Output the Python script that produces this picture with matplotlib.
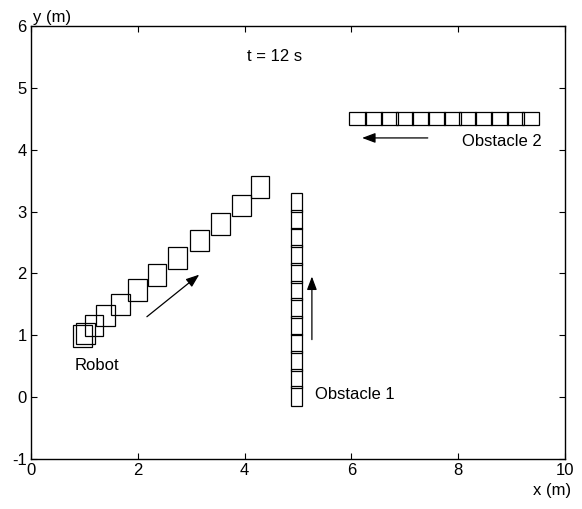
import numpy as np
import matplotlib
matplotlib.use("Agg")
from matplotlib import pyplot as plt
from matplotlib.patches import Rectangle

plt.rcParams['font.family'] = ['Liberation Sans', 'DejaVu Sans']
plt.rcParams['axes.unicode_minus'] = False

# robot square centres, one per time step (m)
ROBOT_X = [0.97, 1.02, 1.18, 1.40, 1.67, 2.00, 2.36, 2.74, 3.15, 3.55, 3.94, 4.29]
ROBOT_Y = [0.99, 1.03, 1.16, 1.32, 1.50, 1.73, 1.97, 2.25, 2.53, 2.80, 3.10, 3.40]
ROBOT_SIZE = 0.35

# obstacle 1: moves up, lower edge of each snapshot
OBS1_X = 4.86
OBS1_Y = [-0.14, 0.14, 0.43, 0.71, 1.00, 1.28, 1.57, 1.85, 2.14, 2.42, 2.71, 2.99]
OBS1_W, OBS1_H = 0.22, 0.315

# obstacle 2: moves left, left edge of each snapshot
OBS2_X = [5.96, 6.25, 6.55, 6.84, 7.14, 7.43, 7.73, 8.02, 8.32, 8.61, 8.91, 9.20]
OBS2_Y = 4.40
OBS2_W, OBS2_H = 0.32, 0.215


def draw_rects(ax, xs, ys, w, h):
    for x, y in zip(xs, ys):
        ax.add_patch(Rectangle((x, y), w, h, fill=False, ec="black", lw=0.9))


def arrow(ax, start, end):
    ax.annotate("", xy=end, xytext=start,
                arrowprops=dict(arrowstyle="-|>,head_length=0.8,head_width=0.3",
                                color="black", lw=0.9, shrinkA=0, shrinkB=0))


def main():
    fig = plt.figure(figsize=(5.82, 5.09), dpi=100)
    ax = fig.add_axes([0.0533, 0.0982, 0.9175, 0.8508])

    half = ROBOT_SIZE / 2
    draw_rects(ax, np.array(ROBOT_X) - half, np.array(ROBOT_Y) - half,
               ROBOT_SIZE, ROBOT_SIZE)
    draw_rects(ax, [OBS1_X] * len(OBS1_Y), OBS1_Y, OBS1_W, OBS1_H)
    draw_rects(ax, OBS2_X, [OBS2_Y] * len(OBS2_X), OBS2_W, OBS2_H)

    arrow(ax, (2.17, 1.30), (3.15, 1.98))
    arrow(ax, (5.26, 0.93), (5.26, 1.95))
    arrow(ax, (7.43, 4.19), (6.20, 4.19))

    fs = 12
    ax.text(4.57, 5.5, "t = 12 s", ha="center", va="center", fontsize=fs)
    ax.text(8.07, 4.13, "Obstacle 2", ha="left", va="center", fontsize=fs)
    ax.text(5.32, 0.04, "Obstacle 1", ha="left", va="center", fontsize=fs)
    ax.text(0.82, 0.51, "Robot", ha="left", va="center", fontsize=fs)

    ax.set_xlim(0, 10)
    ax.set_ylim(-1, 6)
    ax.set_xticks(range(0, 11, 2))
    ax.set_yticks(range(-1, 7))
    ax.tick_params(direction="in", top=True, right=True, length=4,
                   width=0.8, labelsize=fs, pad=3)
    for s in ax.spines.values():
        s.set_linewidth(1.0)

    ax.text(0.004, 1.003, "y (m)", transform=ax.transAxes, ha="left",
            va="bottom", fontsize=fs)
    ax.text(1.012, -0.055, "x (m)", transform=ax.transAxes, ha="right",
            va="top", fontsize=fs)

    fig.savefig("out.png", dpi=100)
    plt.close(fig)


if __name__ == '__main__':
    main()
